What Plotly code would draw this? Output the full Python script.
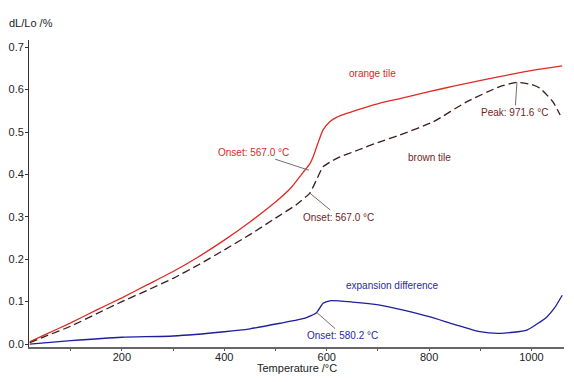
import plotly.graph_objects as go

# orange tile (red, solid)
orange_T = [20, 50, 100, 150, 200, 250, 300, 350, 400, 450, 500, 530, 554, 567, 574, 583, 593, 606, 620, 639, 670, 704, 743, 800, 850, 906, 960, 1010, 1060]
orange_v = [0.005, 0.022, 0.05, 0.08, 0.109, 0.14, 0.171, 0.206, 0.245, 0.288, 0.335, 0.368, 0.405, 0.425, 0.443, 0.474, 0.505, 0.524, 0.535, 0.544, 0.556, 0.568, 0.579, 0.595, 0.609, 0.623, 0.636, 0.647, 0.656]

# brown tile (dashed)
brown_T = [20, 50, 100, 150, 200, 250, 300, 350, 400, 450, 500, 540, 567, 580, 593, 620, 660, 704, 743, 808, 873, 938, 971.6, 1000, 1017, 1042, 1056]
brown_v = [0.003, 0.018, 0.042, 0.071, 0.1, 0.127, 0.155, 0.187, 0.222, 0.258, 0.297, 0.328, 0.356, 0.387, 0.418, 0.438, 0.457, 0.477, 0.493, 0.524, 0.571, 0.607, 0.617, 0.612, 0.603, 0.571, 0.54]

# expansion difference (blue)
diff_T = [20, 100, 200, 300, 400, 450, 509, 558, 580, 593, 606, 650, 704, 750, 802, 850, 899, 938, 991, 1030, 1045, 1060]
diff_v = [0.0, 0.008, 0.016, 0.019, 0.029, 0.036, 0.049, 0.061, 0.074, 0.096, 0.102, 0.099, 0.092, 0.08, 0.064, 0.046, 0.029, 0.025, 0.033, 0.064, 0.085, 0.115]

x_ticks = [200, 400, 600, 800, 1000]
y_ticks = [0.0, 0.1, 0.2, 0.3, 0.4, 0.5, 0.6, 0.7]

FONT = "Liberation Sans, Arial, sans-serif"

fig = go.Figure()
fig.add_trace(go.Scatter(x=orange_T, y=orange_v, mode="lines", line=dict(color="#e02a24", width=1.3, shape="spline", smoothing=0.5), name="orange tile"))
fig.add_trace(go.Scatter(x=brown_T, y=brown_v, mode="lines", line=dict(color="#3a1c1c", width=1.3, dash="8px,4px", shape="spline", smoothing=0.5), name="brown tile"))
fig.add_trace(go.Scatter(x=diff_T, y=diff_v, mode="lines", line=dict(color="#1e1e9e", width=1.3, shape="spline", smoothing=0.5), name="expansion difference"))

ann_line = "#7a6a6a"
annotations = [
    dict(x=690, y=0.637, text="orange tile", showarrow=False, font=dict(color="#d42a22", size=10, family=FONT)),
    dict(x=800, y=0.44, text="brown tile", showarrow=False, font=dict(color="#6e1e1e", size=10, family=FONT)),
    dict(x=729, y=0.137, text="expansion difference", showarrow=False, font=dict(color="#2a2aa0", size=10, family=FONT)),
    dict(x=971.6, y=0.617, text="Peak: 971.6 °C", showarrow=True, arrowhead=0, arrowwidth=1, arrowcolor=ann_line,
         ax=-2, ay=30, font=dict(color="#6e1e1e", size=10, family=FONT)),
    dict(x=565, y=0.41, text="Onset: 567.0 °C", showarrow=True, arrowhead=0, arrowwidth=1, arrowcolor=ann_line,
         ax=-55, ay=-18, font=dict(color="#d42a22", size=10, family=FONT)),
    dict(x=567, y=0.356, text="Onset: 567.0 °C", showarrow=True, arrowhead=0, arrowwidth=1, arrowcolor=ann_line,
         ax=29, ay=24, font=dict(color="#6e1e1e", size=10, family=FONT)),
    dict(x=581, y=0.074, text="Onset: 580.2 °C", showarrow=True, arrowhead=0, arrowwidth=1, arrowcolor=ann_line,
         ax=26, ay=23, font=dict(color="#2a2aa0", size=10, family=FONT)),
    dict(x=0, y=1, xref="paper", yref="paper", xanchor="left", yanchor="bottom", xshift=-22, yshift=9,
         text="dL/Lo /%", showarrow=False, font=dict(color="#222", size=11, family=FONT)),
    dict(x=0.501, y=0, xref="paper", yref="paper", xanchor="center", yanchor="middle", yshift=-21,
         text="Temperature /°C", showarrow=False, font=dict(color="#222", size=11, family=FONT)),
]

# page body has an 8px default margin, so the figure is 8px smaller and margins shifted
fig.update_layout(
    width=566, height=374,
    margin=dict(l=21, r=10, t=32, b=35, autoexpand=False),
    paper_bgcolor="white", plot_bgcolor="white",
    showlegend=False,
    font=dict(family=FONT, size=11, color="#222"),
    annotations=annotations,
    xaxis=dict(range=[18.6, 1063.5], tickvals=x_ticks, ticks="outside", ticklen=2, tickcolor="#555",
               ticklabelstandoff=-3,
               showgrid=False, zeroline=False, showline=True, linecolor="#666", linewidth=2, automargin=False,
               minor=dict(tickvals=[100, 300, 500, 700, 900], ticks="outside", ticklen=2, tickcolor="#555"),
               tickfont=dict(size=11)),
    yaxis=dict(range=[-0.007, 0.717], tickvals=y_ticks, tickformat=".1f", ticks="outside", ticklen=3, tickcolor="#333",
               ticklabelstandoff=-1,
               showgrid=False, zeroline=False, showline=True, linecolor="#333", linewidth=1, automargin=False,
               tickfont=dict(size=11)),
)

fig.write_html("out.html")
